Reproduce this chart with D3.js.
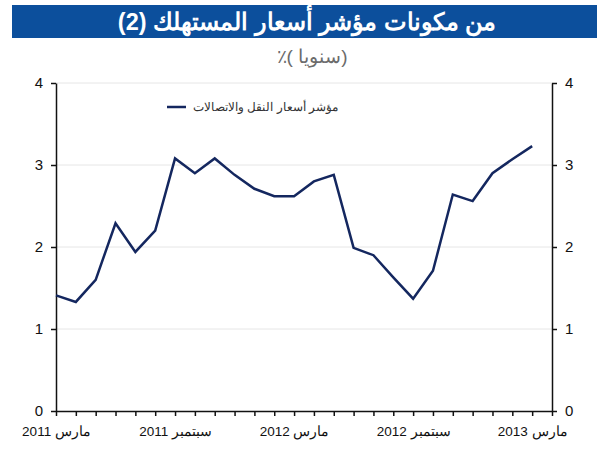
<!DOCTYPE html>
<html>
<head>
<meta charset="utf-8">
<script src="https://cdn.jsdelivr.net/npm/d3@7"></script>
<style>
  body { margin: 0; background: #fff; }
  text { font-family: "Liberation Sans", Arial, sans-serif; }
</style>
</head>
<body>
<div id="chart"></div>
<script>
/* Transport & communications CPI component, yearly % change */
const months = d3.timeMonth.range(new Date(2011, 2, 1), new Date(2013, 4, 1))
    .map(d3.timeFormat("%Y-%m")); // Mar 2011 .. Apr 2013 (last tick has no point)

const values = [1.41, 1.33, 1.60, 2.29, 1.94, 2.20, 3.08, 2.90, 3.08, 2.88, 2.71, 2.62,
                2.62, 2.80, 2.88, 1.99, 1.90, 1.63, 1.37, 1.71, 2.64, 2.56, 2.90, 3.07, 3.23];

const tickMonths = ["2011-03", "2011-09", "2012-03", "2012-09", "2013-03"];
const tickLabels = ["مارس 2011", "سبتمبر 2011", "مارس 2012", "سبتمبر 2012", "مارس 2013"];
const yTicks = [0, 1, 2, 3, 4];

const title = "من مكونات مؤشر أسعار المستهلك (2)";
const subtitle = "٪( سنويا)";
const seriesName = "مؤشر أسعار النقل والاتصالات";

const width = 611,
      height = 450,
      margin = ({ top: 83, right: 59, bottom: 39, left: 56 });

const data = values.map((v, i) => ({ month: months[i], value: v }));

let svg = d3.select("#chart")
    .append("svg")
    .attr("width", width)
    .attr("height", height);

// title bar
svg.append("rect")
    .attr("x", 12).attr("y", 5)
    .attr("width", 585).attr("height", 33)
    .attr("fill", "#0c4f9c");

svg.append("text")
    .attr("x", 307).attr("y", 29.5)
    .attr("text-anchor", "middle")
    .style("direction", "rtl")
    .style("font-size", "23.5px")
    .style("font-weight", "bold")
    .style("fill", "white")
    .text(title);

svg.append("text")
    .attr("x", 312).attr("y", 63)
    .attr("text-anchor", "middle")
    .style("font-size", "19px")
    .style("fill", "#6b6b6b")
    .text(subtitle);

let x = d3.scalePoint()
    .domain(months)
    .range([margin.left, width - margin.right]);

let y = d3.scaleLinear()
    .domain([0, 4])
    .range([height - margin.bottom, margin.top]);

// gridlines
svg.append("g")
    .selectAll("line")
    .data(yTicks.slice(1))
    .join("line")
    .attr("x1", margin.left)
    .attr("x2", width - margin.right)
    .attr("y1", d => y(d))
    .attr("y2", d => y(d))
    .attr("stroke", "#e6e6e6")
    .attr("stroke-width", 1);

const labelOf = new Map(tickMonths.map((m, i) => [m, tickLabels[i]]));

let xAxis = svg.append("g")
    .attr("transform", `translate(0,${height - margin.bottom})`)
    .call(d3.axisBottom(x).tickSize(5).tickSizeOuter(0).tickPadding(10)
        .tickFormat(d => labelOf.get(d) || ""));

let yLeft = svg.append("g")
    .attr("transform", `translate(${margin.left},0)`)
    .call(d3.axisLeft(y).tickValues(yTicks).tickSize(5).tickSizeOuter(0).tickPadding(8)
        .tickFormat(d3.format("d")));

let yRight = svg.append("g")
    .attr("transform", `translate(${width - margin.right},0)`)
    .call(d3.axisRight(y).tickValues(yTicks).tickSize(5).tickSizeOuter(0).tickPadding(8)
        .tickFormat(d3.format("d")));

for (let ax of [xAxis, yLeft, yRight]) {
    ax.selectAll("path, line").attr("stroke", "#111").attr("stroke-width", 1.5);
    ax.selectAll("text").style("fill", "#111");
}
xAxis.selectAll("text").style("font-size", "13.5px");
yLeft.selectAll("text").style("font-size", "15px");
yRight.selectAll("text").style("font-size", "15px");

// series line
let line = d3.line()
    .x(d => x(d.month))
    .y(d => y(d.value));

svg.append("path")
    .datum(data)
    .attr("fill", "none")
    .attr("stroke", "#14275f")
    .attr("stroke-width", 2.5)
    .attr("stroke-linejoin", "miter")
    .attr("d", line);

// legend
svg.append("line")
    .attr("x1", 167).attr("x2", 186)
    .attr("y1", 107).attr("y2", 107)
    .attr("stroke", "#14275f")
    .attr("stroke-width", 2.5);

svg.append("text")
    .attr("x", 338).attr("y", 111)
    .attr("text-anchor", "end")
    .style("font-size", "12px")
    .style("fill", "#333")
    .text(seriesName);
</script>
</body>
</html>
